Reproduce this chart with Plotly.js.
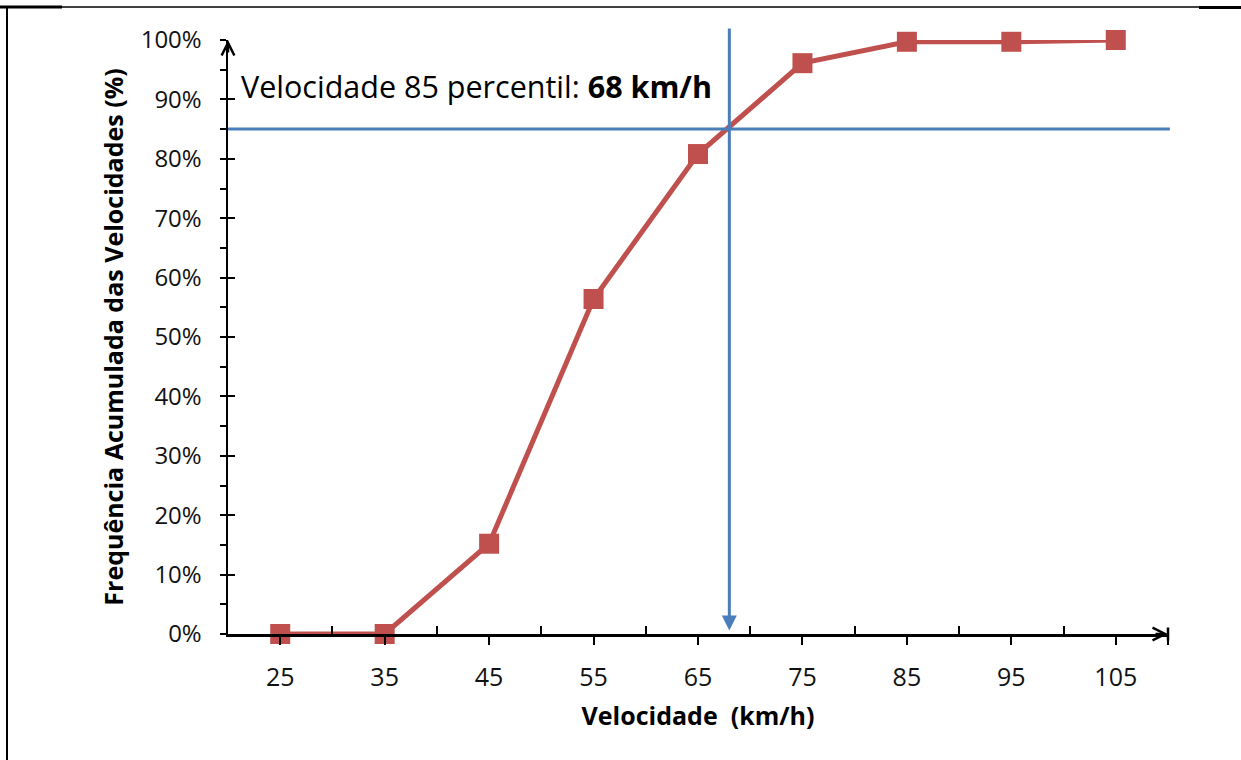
<!DOCTYPE html>
<html>
<head>
<meta charset="utf-8">
<script src="https://cdn.plot.ly/plotly-3.0.1.min.js"></script>
<style>
html,body{margin:0;padding:0;background:#fff;}
#chart{width:1241px;height:760px;}
</style>
</head>
<body>
<div id="chart"></div>
<script>
// ---- data ----
const speeds = [25, 35, 45, 55, 65, 75, 85, 95, 105];
const cumulativeFreq = [0, 0, 0.152, 0.564, 0.808, 0.961, 0.997, 0.997, 1.0];
const tickLabels = ['25', '35', '45', '55', '65', '75', '85', '95', '105'];
const binEdges = [30, 40, 50, 60, 70, 80, 90, 100, 110];
const percentileLevel = 0.85;
const percentileSpeed = 68;
const xTitle = 'Velocidade\u00a0\u00a0(km/h)';
const yTitle = 'Frequência Acumulada das Velocidades (%)';
const noteText = 'Velocidade 85 percentil: <b>68 km/h</b>';

const FONT = 'Open Sans, Noto Sans, sans-serif';
const RED = '#c0504d';
const BLUE = '#4a7ebb';

const L = 228, R = 73, T = 40, B = 126, W = 1241, H = 760;
const pw = W - L - R, ph = H - T - B;
const px = v => (v - L) / pw;          // page px -> paper x
const py = v => (H - B - v) / ph;      // page px -> paper y

const traces = [
  {
    x: speeds, y: cumulativeFreq, type: 'scatter', mode: 'lines+markers',
    line: {color: RED, width: 5},
    marker: {symbol: 'square', size: 20, color: RED},
    cliponaxis: false, hoverinfo: 'skip'
  },
  {x: [], y: [], xaxis: 'x2', yaxis: 'y2', type: 'scatter', hoverinfo: 'skip'}
];

const layout = {
  width: W, height: H,
  margin: {l: L, r: R, t: T, b: B, pad: 0},
  paper_bgcolor: '#ffffff', plot_bgcolor: 'rgba(0,0,0,0)',
  showlegend: false,
  font: {family: FONT, color: '#000'},
  xaxis: {
    range: [20, 110], showgrid: false, zeroline: false,
    showline: true, linecolor: '#000', linewidth: 2.5,
    tickmode: 'array', tickvals: speeds.concat([110]), ticktext: tickLabels.concat(['']),
    ticks: 'outside', ticklen: 8, tickwidth: 2, tickcolor: '#000',
    tickfont: {family: FONT, size: 25, color: '#111'},
    ticklabelstandoff: 11,
    title: {text: xTitle, font: {family: FONT, size: 25, color: '#000', weight: 'bold'}, standoff: 16}
  },
  xaxis2: {
    overlaying: 'x', side: 'bottom', range: [20, 110], showgrid: false, zeroline: false,
    showline: false, tickmode: 'array', tickvals: binEdges,
    ticks: 'inside', ticklen: 8, tickwidth: 2, tickcolor: '#000', showticklabels: false
  },
  yaxis: {
    range: [0, 1], showgrid: false, zeroline: false,
    showline: true, linecolor: '#000', linewidth: 2.5,
    tickmode: 'linear', tick0: 0, dtick: 0.1, tickformat: '.0%',
    ticks: 'outside', ticklen: 6, tickwidth: 2, tickcolor: '#000',
    minor: {dtick: 0.05, ticks: 'outside', ticklen: 6, tickwidth: 2, tickcolor: '#000', showgrid: false},
    tickfont: {family: FONT, size: 24, color: '#111'},
    ticklabelstandoff: 13,
    title: {text: yTitle, font: {family: FONT, size: 25, color: '#000', weight: 'bold'}, standoff: 10}
  },
  yaxis2: {
    overlaying: 'y', side: 'left', range: [0, 1], showgrid: false, zeroline: false,
    showline: false, tickmode: 'linear', tick0: 0, dtick: 0.1,
    ticks: 'inside', ticklen: 7, tickwidth: 2, tickcolor: '#000', showticklabels: false
  },
  shapes: [
    // 85th percentile horizontal line
    {type: 'line', xref: 'paper', yref: 'y', x0: 0, x1: 1.002, y0: percentileLevel, y1: percentileLevel,
     line: {color: BLUE, width: 3}},
    // page border lines
    {type: 'line', xref: 'paper', yref: 'paper', x0: px(0), x1: px(1241), y0: py(7), y1: py(7),
     line: {color: '#000', width: 1.5}},
    {type: 'line', xref: 'paper', yref: 'paper', x0: px(0), x1: px(62), y0: py(7), y1: py(7),
     line: {color: '#000', width: 3}},
    {type: 'line', xref: 'paper', yref: 'paper', x0: px(1199), x1: px(1241), y0: py(7.5), y1: py(7.5),
     line: {color: '#000', width: 3}},
    {type: 'line', xref: 'paper', yref: 'paper', x0: px(7), x1: px(7), y0: py(6), y1: py(760),
     line: {color: '#000', width: 2}}
  ],
  annotations: [
    // vertical percentile arrow
    {x: percentileSpeed, y: 0.006, xref: 'x', yref: 'y', axref: 'x', ayref: 'y',
     ax: percentileSpeed, ay: 1.022, showarrow: true, arrowhead: 2, arrowsize: 1,
     arrowwidth: 3, arrowcolor: BLUE, text: ''},
    // note text
    {x: px(239), y: 0.922, xref: 'paper', yref: 'y', xanchor: 'left', yanchor: 'middle',
     showarrow: false, text: noteText, font: {family: FONT, size: 30.5, color: '#000'}},
    // axis arrowheads
    {x: 110, y: 0, xref: 'x', yref: 'y', ax: -14, ay: 0, showarrow: true, arrowhead: 5,
     arrowsize: 1, arrowwidth: 2.5, arrowcolor: '#000', text: ''},
    {x: 20, y: 1, xref: 'x', yref: 'y', ax: 0, ay: 14, showarrow: true, arrowhead: 5,
     arrowsize: 1, arrowwidth: 2.5, arrowcolor: '#000', text: ''},
    // end bar at x-axis end
    {x: 110, y: 0, xref: 'x', yref: 'y', ax: 0, ay: -8, showarrow: true, arrowhead: 0,
     arrowwidth: 2.5, arrowcolor: '#000', text: ''},
    {x: 110, y: 0, xref: 'x', yref: 'y', ax: 0, ay: 8, showarrow: true, arrowhead: 0,
     arrowwidth: 2.5, arrowcolor: '#000', text: ''}
  ]
};

Plotly.newPlot('chart', traces, layout, {displayModeBar: false, staticPlot: true});
</script>
</body>
</html>
